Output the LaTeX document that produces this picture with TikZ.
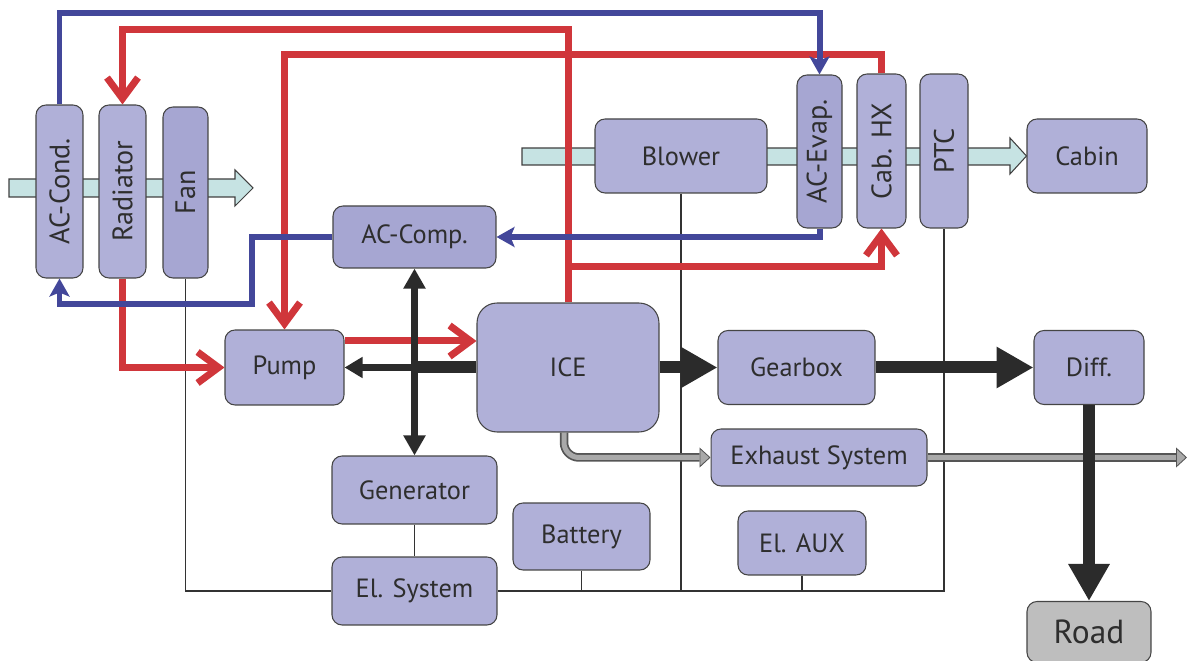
\documentclass[tikz,border=0pt]{standalone}
\usepackage{fontspec}
\setmainfont{PT Sans}
\usetikzlibrary{arrows.meta,calc,backgrounds}
\definecolor{boxlilac}{HTML}{B0B0D8}
\definecolor{boxdeep}{HTML}{A6A6D2}
\definecolor{boxedge}{HTML}{454545}
\definecolor{heatred}{HTML}{D0363B}
\definecolor{coolblue}{HTML}{43479A}
\definecolor{shaftblack}{HTML}{2B2B2B}
\definecolor{aircyan}{HTML}{C6E3E3}
\definecolor{pipegray}{HTML}{A9A9A9}
\definecolor{pipeedge}{HTML}{555555}
\definecolor{roadgray}{HTML}{BEBEBE}

\begin{document}
\begin{tikzpicture}[x=0.02cm,y=-0.02cm,
box/.style={draw=boxedge,fill=boxlilac,rounded corners=0.2cm,inner sep=0pt,line width=0.6pt,text=black!82,font=\fontsize{15}{18}\selectfont},
vbox/.style={box,font=\fontsize{16}{19}\selectfont},
redflow/.style={draw=heatred,line width=0.14cm,-{Straight Barb[length=0.42cm,width=0.62cm]}},
blueflow/.style={draw=coolblue,line width=0.12cm,-{Stealth[length=0.36cm,width=0.4cm,inset=0.08cm]}},
shaft/.style={draw=shaftblack,line width=0.24cm,-{Triangle[length=0.74cm,width=0.78cm]}},
rod/.style={draw=shaftblack,line width=0.13cm},
bus/.style={draw=black!80,line width=0.6pt},
air/.style={draw=black!75,fill=aircyan,line width=0.6pt},
pipe/.style={draw=pipeedge,line width=0.17cm,rounded corners=0.3cm,-{Triangle[length=0.22cm,width=0.4cm,fill=pipegray,line width=0.5pt]}},
pipecore/.style={draw=pipegray,line width=0.1cm,rounded corners=0.3cm,shorten >=0.22cm}]
\useasboundingbox (0,0) rectangle (1187,661);
% air side, left to right
\node[vbox,minimum width=0.94cm,minimum height=3.46cm] (cond) at (59.5,191.5) {\rotatebox{90}{AC-Cond.}};
\node[vbox,minimum width=0.94cm,minimum height=3.46cm] (rad) at (122.5,191.5) {\rotatebox{90}{Radiator}};
\node[vbox,fill=boxdeep,minimum width=0.9cm,minimum height=3.42cm] (fan) at (185.5,192.5) {\rotatebox{90}{Fan}};
\node[box,fill=boxdeep,minimum width=3.26cm,minimum height=1.24cm] (comp) at (414.5,237) {AC-Comp.};
\node[box,minimum width=3.44cm,minimum height=1.48cm] (blower) at (681,156) {Blower};
\node[vbox,fill=boxdeep,minimum width=0.9cm,minimum height=3.06cm] (evap) at (819.5,151.5) {\rotatebox{90}{AC-Evap.}};
\node[vbox,minimum width=0.98cm,minimum height=3.08cm] (cabhx) at (881.5,151) {\rotatebox{90}{Cab. HX}};
\node[vbox,minimum width=0.96cm,minimum height=3.08cm] (ptc) at (944,151) {\rotatebox{90}{PTC}};
\node[box,minimum width=2.4cm,minimum height=1.48cm] (cabin) at (1087,156) {Cabin};
% drive line
\node[box,minimum width=2.38cm,minimum height=1.5cm] (pump) at (284.5,367.5) {Pump};
\node[box,rounded corners=0.4cm,minimum width=3.64cm,minimum height=2.58cm] (ice) at (568,367.5) {ICE};
\node[box,minimum width=3.14cm,minimum height=1.48cm] (gear) at (796.5,367.5) {Gearbox};
\node[box,minimum width=2.2cm,minimum height=1.48cm] (diff) at (1089,367.5) {Diff.};
\node[box,minimum width=4.32cm,minimum height=1.14cm] (exh) at (819,457.5) {Exhaust System};
\node[box,fill=roadgray,font=\fontsize{19}{22}\selectfont,minimum width=2.48cm,minimum height=1.22cm] (road) at (1089,632) {Road};
% electric side
\node[box,minimum width=3.3cm,minimum height=1.36cm] (gen) at (414.5,490) {Generator};
\node[box,minimum width=3.3cm,minimum height=1.36cm] (elsys) at (414.5,591) {El. System};
\node[box,minimum width=2.74cm,minimum height=1.34cm] (batt) at (581.5,536.5) {Battery};
\node[box,minimum width=2.56cm,minimum height=1.28cm] (aux) at (802,543) {El. AUX};
\begin{scope}[on background layer]
\draw[air] (9,179)--(235,179)--(235,170)--(253,188)--(235,206)--(235,197)--(9,197)--cycle;
\draw[air] (522,148)--(1010,148)--(1010,138)--(cabin.west)--(1010,174)--(1010,165)--(522,165)--cycle;
\end{scope}
\coordinate (bluetop) at (0,13);
\coordinate (redtop) at (0,30);
\coordinate (redmid) at (0,55);
\coordinate (redlow) at (0,267);
\coordinate (pumpice) at (0,341);
\coordinate (bluebend) at (252,304);
\coordinate (pipestart) at (564,0);
\coordinate (pipeend) at (1187,457.5);
% wiring
\draw[bus] (fan.south) |- (elsys.west);
\draw[bus] (elsys.east) -| (ptc.south);
\draw[bus] (blower.south) -- (blower.south |- elsys.east);
\draw[bus] (batt.south) -- (batt.south |- elsys.east);
\draw[bus] (aux.south) -- (aux.south |- elsys.east);
\draw[bus] (gen.south) -- (elsys.north);
% exhaust
\draw[pipe] (pipestart |- ice.south) |- (exh.west);
\draw[pipecore] (pipestart |- ice.south) |- (exh.west);
\draw[pipe] (exh.east) -- (pipeend);
\draw[pipecore] (exh.east) -- (pipeend);
% coolant
\draw[redflow] (ice.north) -- (ice.north |- redtop) -| (rad.north);
\draw[redflow] (ice.north |- redlow) -| (cabhx.south);
\draw[redflow] (cabhx.north) -- (cabhx.north |- redmid) -| (pump.north);
\draw[redflow] (rad.south) |- (pump.west);
\draw[redflow] (pump.east |- pumpice) -- (ice.west |- pumpice);
% refrigerant
\draw[blueflow] (cond.north) -- (cond.north |- bluetop) -| (evap.north);
\draw[blueflow] (evap.south) |- (comp.east);
\draw[blueflow] (comp.west) -| (bluebend) -| (cond.south);
% mechanical
\draw[shaft] (ice.east) -- (gear.west);
\draw[shaft] (gear.east) -- (diff.west);
\draw[shaft] (diff.south) -- (road.north);
\draw[draw=shaftblack,line width=0.24cm] (ice.west) -- (comp.south |- ice.west);
\draw[rod,-{Triangle[length=0.36cm,width=0.4cm]}] (comp.south |- ice.west) -- (pump.east);
\draw[rod,{Triangle[length=0.4cm,width=0.42cm]}-{Triangle[length=0.4cm,width=0.42cm]}] (comp.south) -- (gen.north);
\end{tikzpicture}
\end{document}
